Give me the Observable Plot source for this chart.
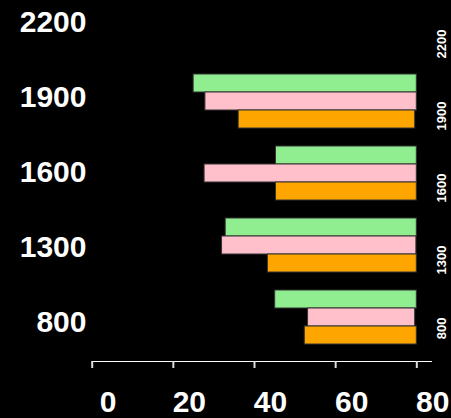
<!DOCTYPE html>
<html>
<head>
<meta charset="utf-8">
<script src="https://cdn.jsdelivr.net/npm/d3@7"></script>
<script src="https://cdn.jsdelivr.net/npm/@observablehq/plot@0.6"></script>
<style>
  html, body { margin: 0; padding: 0; background: #000; }
  #wrap { position: relative; width: 451px; height: 418px; background: #000; overflow: hidden; font-family: "Liberation Sans", Arial, sans-serif; }
  #wrap > svg, #wrap > figure { position: absolute; left: 0; top: 0; margin: 0; }
  #wrap svg text { font-family: "Liberation Sans", Arial, sans-serif !important; font-weight: bold; }
</style>
</head>
<body>
<div id="wrap"></div>
<script>
// Categories (top to bottom)
const categories = ["2200", "1900", "1600", "1300", "800"];
// Series
const seriesNames = ["s1", "s2", "s3"];
const seriesColors = ["#90EE90", "#FFC0CB", "#FFA500"];
// Bar start values (left edge) per category, per series; null = no bar
const s1Start = [null, 25.0, 45.3, 32.9, 45.1];
const s2Start = [null, 27.9, 27.7, 32.0, 53.2];
const s3Start = [null, 36.1, 45.3, 43.3, 52.4];
// Bar end values (right edge)
const s1End = [null, 80, 80, 80, 80];
const s2End = [null, 80, 80, 79.9, 79.6];
const s3End = [null, 79.6, 80, 80, 80];
const xTicks = [0, 20, 40, 60, 80];

const starts = [s1Start, s2Start, s3Start];
const ends = [s1End, s2End, s3End];

// band keys: three bars per category plus a gap between categories
const keys = [];
categories.forEach((c, i) => {
  seriesNames.forEach(s => keys.push(c + "|" + s));
  if (i < categories.length - 1) keys.push(c + "|gap");
});

const bars = [];
categories.forEach((c, i) => {
  seriesNames.forEach((s, j) => {
    if (starts[j][i] != null) bars.push({cat: c, series: s, x1: starts[j][i], x2: ends[j][i]});
  });
});

const main = Plot.plot({
  width: 451,
  height: 418,
  marginLeft: 91.7,
  marginRight: 20,
  marginTop: 0,
  marginBottom: 57,
  style: {background: "#000", color: "#fff", fontSize: "30px"},
  x: {domain: [0, 80], range: [91.7, 416.3], ticks: xTicks, tickSize: 7, tickPadding: 22, line: true, label: null, tickFormat: d => String(d)},
  y: {type: "band", domain: keys, range: [0, 345.5], padding: 0, axis: null},
  color: {domain: seriesNames, range: seriesColors},
  marks: [
    Plot.barX(bars, {x1: "x1", x2: "x2", y: d => d.cat + "|" + d.series, fill: "series", stroke: "#333", strokeWidth: 1, inset: 0}),
    Plot.text(categories, {y: d => d + "|s2", frameAnchor: "right", dx: 10, rotate: -90, text: d => d, fill: "#fff", fontSize: 13})
  ]
});

const labels = Plot.plot({
  width: 120,
  height: 418,
  marginLeft: 0,
  marginRight: 34,
  marginTop: 0,
  marginBottom: 0,
  style: {background: "transparent", color: "#fff", fontSize: "30px"},
  x: {axis: null},
  y: {type: "point", domain: categories, range: [20, 323], padding: 0, axis: null},
  marks: [
    Plot.text(categories, {y: d => d, frameAnchor: "right", textAnchor: "end", text: d => d, fill: "#fff", fontSize: 30})
  ]
});

const wrap = document.getElementById("wrap");
wrap.appendChild(main);
wrap.appendChild(labels);

// axis styling: shift tick labels and tint the rule
d3.select(main).selectAll("g[aria-label^='x-axis'] text").attr("dx", 16);
d3.select(main).selectAll("g[aria-label^='x-axis'] path, g[aria-label^='x-axis'] line").attr("stroke", "#ddd").attr("stroke-width", 2);
</script>
</body>
</html>
